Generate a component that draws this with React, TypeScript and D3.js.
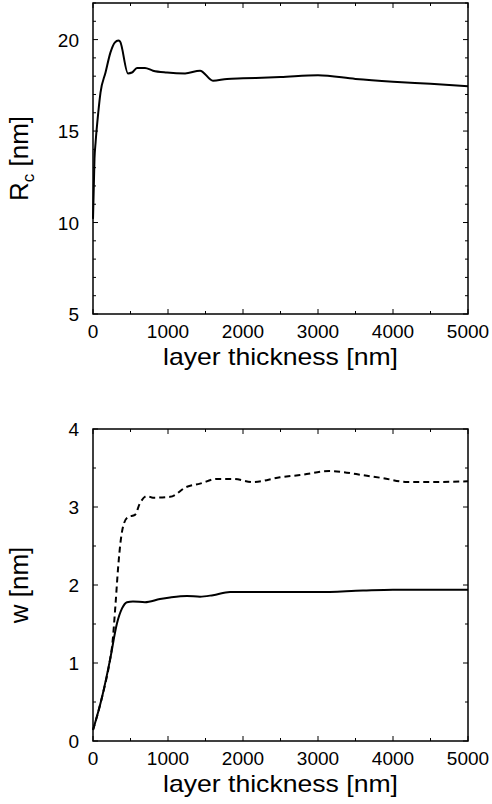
import React from 'react';
import * as d3 from 'd3';

// x ticks shared by both panels
const xMajor = [0, 1000, 2000, 3000, 4000, 5000];

// top panel: critical radius R_c [nm]
const rcX = [0, 20, 35, 70, 100, 167, 233, 293, 337, 360, 467, 520, 587, 693, 800, 987, 1227, 1427, 1600, 1787, 2000, 2500, 3000, 3500, 4000, 4500, 5000];
const rcVal = [10.2, 13.5, 14.4, 16.0, 17.1, 18.2, 19.3, 19.85, 19.95, 19.9, 18.15, 18.2, 18.45, 18.45, 18.3, 18.2, 18.15, 18.3, 17.75, 17.85, 17.88, 17.95, 18.05, 17.85, 17.7, 17.58, 17.45];

// bottom panel: width w [nm], solid curve
const wX = [0, 120, 227, 320, 387, 453, 533, 693, 893, 1027, 1253, 1427, 1600, 1827, 2500, 3000, 3600, 4000, 5000];
const wSolid = [0.14, 0.56, 1.04, 1.51, 1.7, 1.78, 1.79, 1.78, 1.82, 1.84, 1.86, 1.85, 1.87, 1.91, 1.91, 1.91, 1.93, 1.94, 1.94];

// bottom panel: dashed curve
const wDashX = [0, 120, 227, 253, 300, 333, 367, 413, 467, 560, 627, 720, 800, 1027, 1253, 1427, 1653, 1867, 2133, 2493, 2760, 3150, 3653, 3867, 4187, 4453, 5000];
const wDash = [0.14, 0.56, 1.04, 1.2, 1.75, 2.2, 2.55, 2.79, 2.87, 2.9, 3.05, 3.14, 3.12, 3.13, 3.26, 3.3, 3.36, 3.36, 3.32, 3.38, 3.41, 3.46, 3.4, 3.37, 3.32, 3.32, 3.33];

const font = '"Liberation Sans", Arial, Helvetica, sans-serif';
const left = 93;
const right = 468;

type Series = { xs: number[]; ys: number[]; dash?: string };

function Panel({ top, bottom, yDomain, yMajor, yMinor, series, yLabel }: {
  top: number; bottom: number; yDomain: [number, number]; yMajor: number[]; yMinor: number[];
  series: Series[]; yLabel: React.ReactNode;
}) {
  const x = d3.scaleLinear().domain([0, 5000]).range([left, right]);
  const y = d3.scaleLinear().domain(yDomain).range([bottom, top]);
  const xMinor = d3.range(0, 5001, 500);
  const major = 5, minor = 3;

  return (
    <g>
      {series.map((s, i) => {
        const line = d3.line<number>()
          .x((_, j) => x(s.xs[j]))
          .y(d => y(d))
          .curve(d3.curveMonotoneX);
        return <path key={i} d={line(s.ys) || ''} fill="none" stroke="#000" strokeWidth={2}
          strokeDasharray={s.dash} />;
      })}
      <rect x={left} y={top} width={right - left} height={bottom - top} fill="none" stroke="#000" strokeWidth={1.5} />
      {xMinor.map(v => {
        const len = xMajor.includes(v) ? major : minor;
        return (
          <g key={'x' + v}>
            <line x1={x(v)} x2={x(v)} y1={bottom} y2={bottom - len} stroke="#000" />
            <line x1={x(v)} x2={x(v)} y1={top} y2={top + len} stroke="#000" />
          </g>
        );
      })}
      {yMinor.map(v => {
        const len = yMajor.includes(v) ? major : minor;
        return (
          <g key={'y' + v}>
            <line x1={left} x2={left + len} y1={y(v)} y2={y(v)} stroke="#000" />
            <line x1={right} x2={right - len} y1={y(v)} y2={y(v)} stroke="#000" />
          </g>
        );
      })}
      {xMajor.map(v => (
        <text key={'xl' + v} x={x(v)} y={bottom + 24} textAnchor="middle" fontSize={19} fontFamily={font}>{v}</text>
      ))}
      {yMajor.map(v => (
        <text key={'yl' + v} x={79} y={y(v) + 7} textAnchor="end" fontSize={19} fontFamily={font}>{v}</text>
      ))}
      <text x={(left + right) / 2} y={bottom + 51} textAnchor="middle" fontSize={24} fontFamily={font}
        textLength={235} lengthAdjust="spacingAndGlyphs">
        layer thickness [nm]
      </text>
      <text transform={`translate(28,${(top + bottom) / 2}) rotate(-90)`} textAnchor="middle" fontSize={26} fontFamily={font}>
        {yLabel}
      </text>
    </g>
  );
}

export default function App() {
  return (
    <svg width={492} height={804} style={{ position: 'absolute', left: 0, top: 0, background: '#fff' }}>
      <Panel
        top={3} bottom={314} yDomain={[5, 22]}
        yMajor={[5, 10, 15, 20]} yMinor={d3.range(5, 23, 1)}
        series={[{ xs: rcX, ys: rcVal }]}
        yLabel={<>R<tspan fontSize={17} dy={6}>c</tspan><tspan dy={-6}> [nm]</tspan></>}
      />
      <Panel
        top={429} bottom={741} yDomain={[0, 4]}
        yMajor={[0, 1, 2, 3, 4]} yMinor={d3.range(0, 4.01, 0.5)}
        series={[{ xs: wX, ys: wSolid }, { xs: wDashX, ys: wDash, dash: '6,4' }]}
        yLabel="w [nm]"
      />
    </svg>
  );
}
